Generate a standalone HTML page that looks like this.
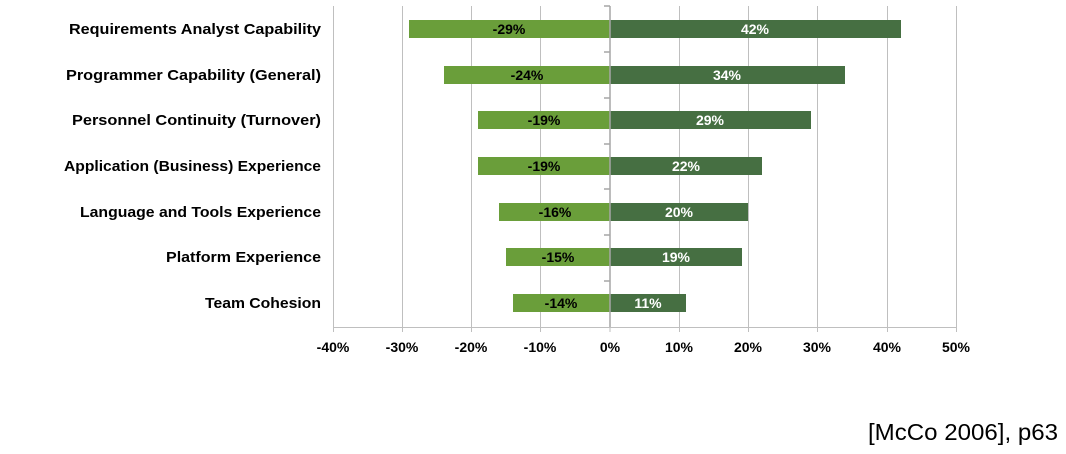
<!DOCTYPE html>
<html><head><style>
html,body{margin:0;padding:0;background:#fff;}
</style></head><body>
<svg width="1066" height="449" xmlns="http://www.w3.org/2000/svg" font-family="Liberation Sans, sans-serif">
<g stroke="#bfbfbf" stroke-width="1">
<line x1="333.5" y1="6" x2="333.5" y2="327"/>
<line x1="402.5" y1="6" x2="402.5" y2="327"/>
<line x1="471.5" y1="6" x2="471.5" y2="327"/>
<line x1="540.5" y1="6" x2="540.5" y2="327"/>
<line x1="679.5" y1="6" x2="679.5" y2="327"/>
<line x1="748.5" y1="6" x2="748.5" y2="327"/>
<line x1="817.5" y1="6" x2="817.5" y2="327"/>
<line x1="887.5" y1="6" x2="887.5" y2="327"/>
<line x1="956.5" y1="6" x2="956.5" y2="327"/>
<line x1="333" y1="327.5" x2="956" y2="327.5"/>
<g>
<line x1="333.5" y1="327" x2="333.5" y2="332"/><line x1="402.5" y1="327" x2="402.5" y2="332"/><line x1="471.5" y1="327" x2="471.5" y2="332"/><line x1="540.5" y1="327" x2="540.5" y2="332"/><line x1="610" y1="327" x2="610" y2="332"/><line x1="679.5" y1="327" x2="679.5" y2="332"/><line x1="748.5" y1="327" x2="748.5" y2="332"/><line x1="817.5" y1="327" x2="817.5" y2="332"/><line x1="887.5" y1="327" x2="887.5" y2="332"/><line x1="956.5" y1="327" x2="956.5" y2="332"/>
</g>
</g>
<g fill="#6a9e3a">
<rect x="409" y="20" width="201" height="18"/>
<rect x="444" y="66" width="166" height="18"/>
<rect x="478" y="111" width="132" height="18"/>
<rect x="478" y="157" width="132" height="18"/>
<rect x="499" y="203" width="111" height="18"/>
<rect x="506" y="248" width="104" height="18"/>
<rect x="513" y="294" width="97" height="18"/>
</g>
<g fill="#466f42">
<rect x="610" y="20" width="291" height="18"/>
<rect x="610" y="66" width="235" height="18"/>
<rect x="610" y="111" width="201" height="18"/>
<rect x="610" y="157" width="152" height="18"/>
<rect x="610" y="203" width="138" height="18"/>
<rect x="610" y="248" width="132" height="18"/>
<rect x="610" y="294" width="76" height="18"/>
</g>
<g stroke="#a6a6a6" stroke-width="1.5">
<line x1="610" y1="6" x2="610" y2="327"/>
<line x1="604" y1="6" x2="610" y2="6"/><line x1="604" y1="52" x2="610" y2="52"/><line x1="604" y1="98" x2="610" y2="98"/><line x1="604" y1="144" x2="610" y2="144"/><line x1="604" y1="189" x2="610" y2="189"/><line x1="604" y1="235" x2="610" y2="235"/><line x1="604" y1="281" x2="610" y2="281"/>
</g>
<g font-size="15" font-weight="bold" fill="#000">
<text x="69" y="34" textLength="252" lengthAdjust="spacingAndGlyphs">Requirements Analyst Capability</text>
<text x="66" y="80" textLength="255" lengthAdjust="spacingAndGlyphs">Programmer Capability (General)</text>
<text x="72" y="125" textLength="249" lengthAdjust="spacingAndGlyphs">Personnel Continuity (Turnover)</text>
<text x="64" y="171" textLength="257" lengthAdjust="spacingAndGlyphs">Application (Business) Experience</text>
<text x="80" y="217" textLength="241" lengthAdjust="spacingAndGlyphs">Language and Tools Experience</text>
<text x="166" y="262" textLength="155" lengthAdjust="spacingAndGlyphs">Platform Experience</text>
<text x="205" y="308" textLength="116" lengthAdjust="spacingAndGlyphs">Team Cohesion</text>
</g>
<g font-size="14" font-weight="bold" fill="#000" text-anchor="middle">
<text x="509" y="34">-29%</text>
<text x="527" y="80">-24%</text>
<text x="544" y="125">-19%</text>
<text x="544" y="171">-19%</text>
<text x="555" y="217">-16%</text>
<text x="558" y="262">-15%</text>
<text x="561" y="308">-14%</text>
</g>
<g font-size="14" font-weight="bold" fill="#fff" text-anchor="middle">
<text x="755" y="34">42%</text>
<text x="727" y="80">34%</text>
<text x="710" y="125">29%</text>
<text x="686" y="171">22%</text>
<text x="679" y="217">20%</text>
<text x="676" y="262">19%</text>
<text x="648" y="308">11%</text>
</g>
<g font-size="14" font-weight="bold" fill="#000" text-anchor="middle">
<text x="333" y="352">-40%</text><text x="402" y="352">-30%</text><text x="471" y="352">-20%</text><text x="540" y="352">-10%</text><text x="610" y="352">0%</text><text x="679" y="352">10%</text><text x="748" y="352">20%</text><text x="817" y="352">30%</text><text x="887" y="352">40%</text><text x="956" y="352">50%</text>
</g>
<text x="1058" y="440" font-size="23" text-anchor="end" fill="#000" textLength="190" lengthAdjust="spacingAndGlyphs">[McCo 2006], p63</text>
</svg>
</body></html>
